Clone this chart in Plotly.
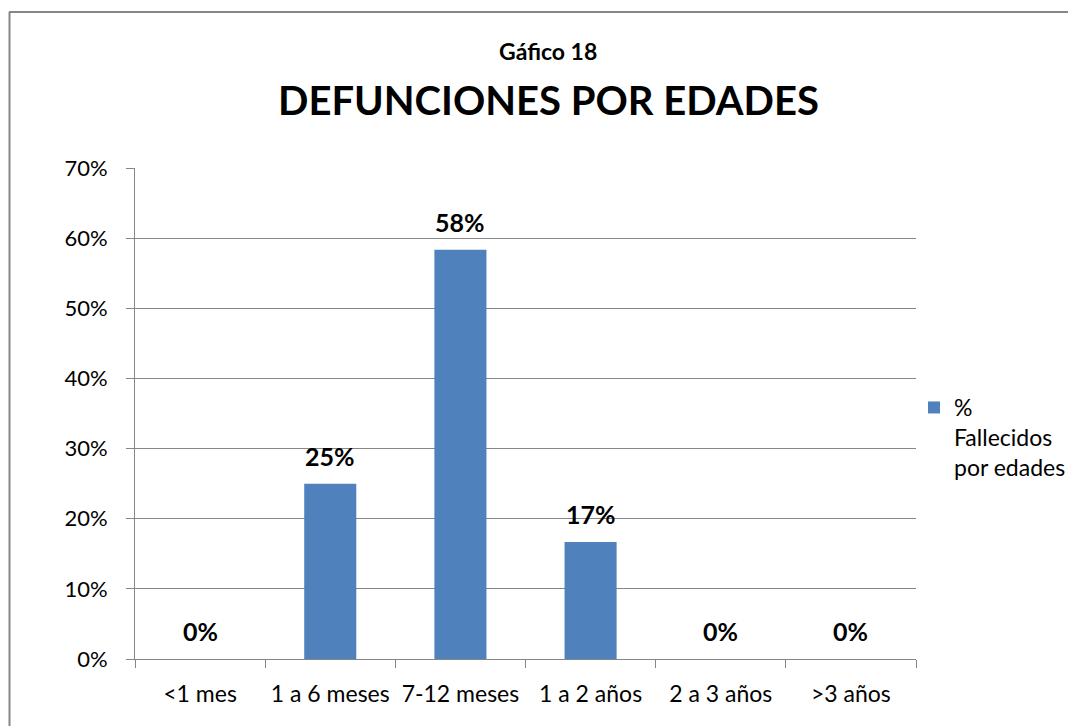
import plotly.graph_objects as go

categories = ["<1 mes", "1 a 6 meses", "7-12 meses", "1 a 2 años", "2 a 3 años", ">3 años"]
values = [0.0, 0.25, 0.5833, 0.1667, 0.0, 0.0]
series_name = "%<br>Fallecidos<br>por edades"
chart_kicker = "Gáfico 18"
chart_title = "DEFUNCIONES POR EDADES"

FONT = "Lato, Open Sans, sans-serif"
BAR = "#4F81BD"
GRID = "#868686"

OFF = 8  # page body margin offset
W, H = 1076 - OFF, 726 - OFF
# target plot area in screenshot pixels
PX0, PX1, PY0, PY1 = 135, 916, 168, 659
L, T = PX0 - OFF, PY0 - OFF
R, B = W - (PX1 - OFF), H - (PY1 - OFF)
pw, ph = PX1 - PX0, PY1 - PY0


def px_to_paper_x(px):
    return (px - PX0) / pw


def px_to_paper_y(py):
    return (PY1 - py) / ph


fig = go.Figure()
fig.add_trace(go.Bar(
    x=categories, y=values, name=series_name,
    marker=dict(color=BAR, line=dict(width=0)),
    width=0.4, showlegend=True,
))

for c, v in zip(categories, values):
    fig.add_annotation(
        x=c, y=v, xref="x", yref="y", text=f"<b>{v*100:.0f}%</b>",
        showarrow=False, yanchor="middle", yshift=28,
        font=dict(family=FONT, size=25, color="black"),
    )

fig.add_annotation(
    x=px_to_paper_x(548), y=px_to_paper_y(51), xref="paper", yref="paper",
    text=f"<b>{chart_kicker}</b>", showarrow=False,
    xanchor="center", yanchor="middle",
    font=dict(family=FONT, size=23, color="black"),
)
fig.add_annotation(
    x=px_to_paper_x(548), y=px_to_paper_y(100), xref="paper", yref="paper",
    text=f"<b>{chart_title}</b>", showarrow=False,
    xanchor="center", yanchor="middle",
    font=dict(family=FONT, size=40, color="black"),
)

# outer chart border (top and left edges visible)
fig.add_shape(type="line", xref="paper", yref="paper",
              x0=px_to_paper_x(9), x1=px_to_paper_x(1090),
              y0=px_to_paper_y(12), y1=px_to_paper_y(12),
              line=dict(color=GRID, width=2))
fig.add_shape(type="line", xref="paper", yref="paper",
              x0=px_to_paper_x(9.5), x1=px_to_paper_x(9.5),
              y0=px_to_paper_y(12), y1=px_to_paper_y(740),
              line=dict(color=GRID, width=2))

fig.update_layout(
    width=W, height=H,
    margin=dict(l=L, r=R, t=T, b=B, autoexpand=False),
    paper_bgcolor="white", plot_bgcolor="white",
    font=dict(family=FONT, size=22, color="black"),
    bargap=0.6,
    showlegend=True,
    legend=dict(
        x=px_to_paper_x(914), y=px_to_paper_y(386), xanchor="left", yanchor="top",
        valign="top", itemwidth=30, tracegroupgap=0,
        font=dict(family=FONT, size=23, color="black"),
        bgcolor="rgba(0,0,0,0)",
    ),
    xaxis=dict(
        type="category", showgrid=False, showline=True, linecolor=GRID, linewidth=1,
        ticks="outside", ticklen=8, tickcolor=GRID, tickson="boundaries",
        tickfont=dict(family=FONT, size=23, color="black"),
        ticklabelstandoff=14,
    ),
    yaxis=dict(
        range=[0, 0.7], dtick=0.1, tickformat=".0%", showgrid=True,
        gridcolor=GRID, gridwidth=1, showline=True, linecolor=GRID, linewidth=1,
        ticks="outside", ticklen=8, tickcolor=GRID, zeroline=False,
        tickfont=dict(family=FONT, size=22, color="black"),
        ticklabelstandoff=14,
    ),
)

fig.write_html("out.html")
